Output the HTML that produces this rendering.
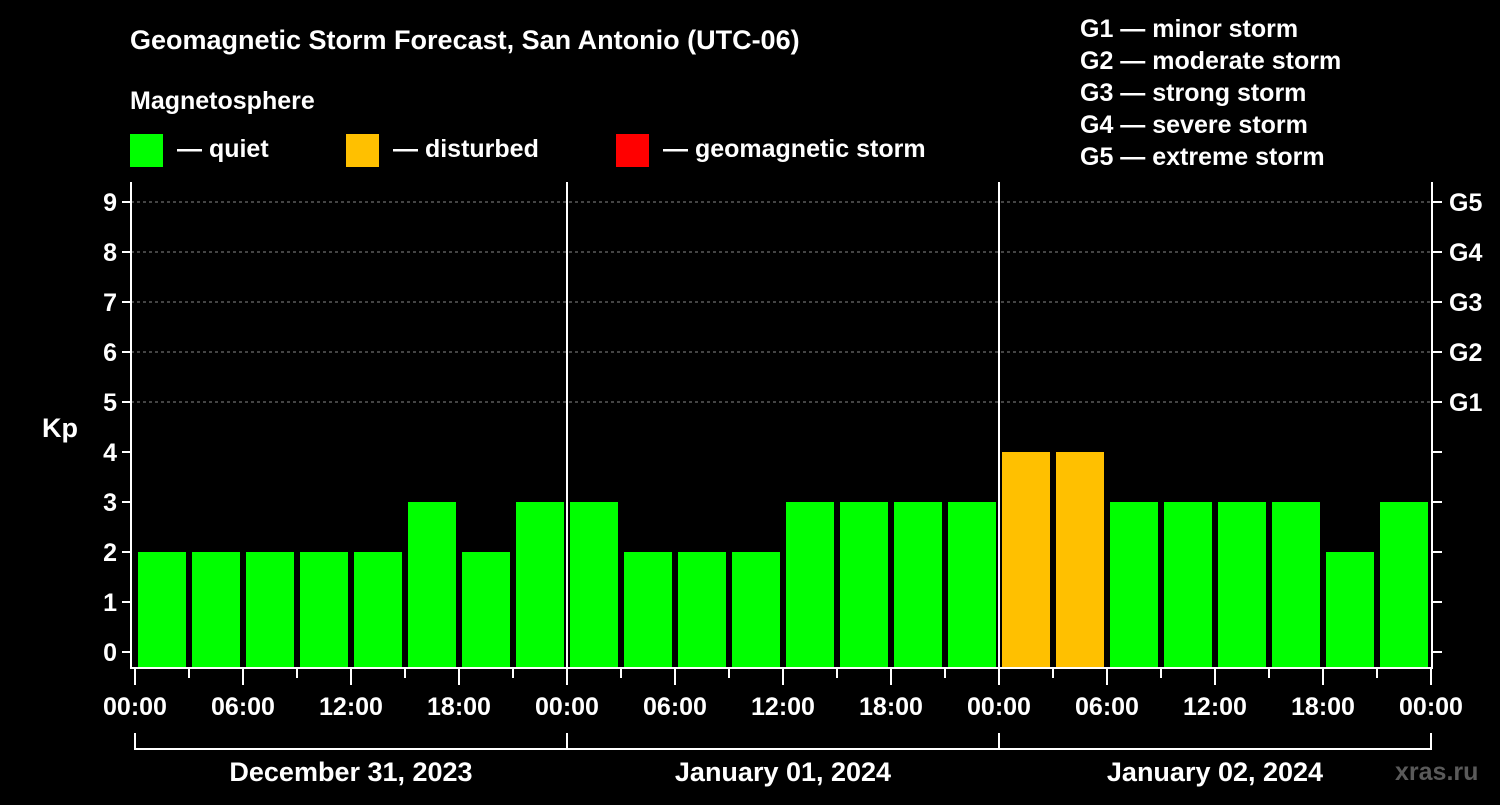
<!DOCTYPE html>
<html><head><meta charset="utf-8"><style>
body{margin:0;background:#000;width:1500px;height:800px;overflow:hidden}
svg text{font-family:"Liberation Sans",Arial,sans-serif;font-weight:bold;fill:#fff}
</style></head><body>
<svg id="c" width="1500" height="800" viewBox="0 0 1500 800">
<rect width="1500" height="800" fill="#000"/>
<text x="130" y="49" font-size="27">Geomagnetic Storm Forecast, San Antonio (UTC-06)</text>
<text x="130" y="109" font-size="25">Magnetosphere</text>
<rect x="130" y="134" width="33" height="33" fill="#00ff00"/>
<text x="177" y="157" font-size="25">— quiet</text>
<rect x="346" y="134" width="33" height="33" fill="#ffc000"/>
<text x="393" y="157" font-size="25">— disturbed</text>
<rect x="616" y="134" width="33" height="33" fill="#ff0000"/>
<text x="663" y="157" font-size="25">— geomagnetic storm</text>
<g font-size="25">
<text x="1080" y="37">G1 — minor storm</text>
<text x="1080" y="69">G2 — moderate storm</text>
<text x="1080" y="101">G3 — strong storm</text>
<text x="1080" y="133">G4 — severe storm</text>
<text x="1080" y="165">G5 — extreme storm</text>
</g>
<text x="42" y="437" font-size="27">Kp</text>
<text x="1395" y="780" font-size="25" fill="#555" style="fill:#5a5a5a">xras.ru</text>
<g id="plot"></g>
</svg>
<script>
const kpValues=[2,2,2,2,2,3,2,3, 3,2,2,2,3,3,3,3, 4,4,3,3,3,3,2,3];
const yTicks=[0,1,2,3,4,5,6,7,8,9];
const gLabels=["G1","G2","G3","G4","G5"];
const timeLabels=["00:00","06:00","12:00","18:00"];
const dayLabels=["December 31, 2023","January 01, 2024","January 02, 2024"];
const NS="http://www.w3.org/2000/svg";
const g=document.getElementById('plot');
const X0=135,STEP=54,Y0=652,UNIT=50,TOP=182,BOT=668,LEFT=131,RIGHT=1432;
const xs=i=>X0+i*STEP;
const ys=v=>Y0-v*UNIT;
function mk(t,a,txt){const e=document.createElementNS(NS,t);for(const k in a)e.setAttribute(k,a[k]);if(txt!==undefined)e.textContent=txt;g.appendChild(e);return e;}
// gridlines
yTicks.forEach(v=>{if(v>=5){const l=mk('line',{x1:LEFT,x2:RIGHT,y1:ys(v),y2:ys(v),stroke:'#888','stroke-dasharray':'3,3','stroke-width':1});

}});
// bars
kpValues.forEach((v,i)=>{const c=v>=5?'#ff0000':(v>=4?'#ffc000':'#00ff00');
const r=mk('rect',{x:xs(i)+3,y:ys(v),width:48,height:BOT-ys(v),fill:c});

});
// frame
const f=mk('path',{d:`M${LEFT} ${TOP}V${BOT}H${RIGHT}V${TOP}`,stroke:'#fff','stroke-width':2,fill:'none'});


// day separators
[1,2].forEach(d=>{const l=mk('line',{x1:xs(d*8),x2:xs(d*8),y1:TOP,y2:BOT,stroke:'#fff','stroke-width':2});

});
// y ticks
yTicks.forEach(v=>{
mk('line',{x1:LEFT-9,x2:LEFT,y1:ys(v),y2:ys(v),stroke:'#fff','stroke-width':2});
mk('line',{x1:RIGHT,x2:RIGHT+10,y1:ys(v),y2:ys(v),stroke:'#fff','stroke-width':2});
const t=mk('text',{x:LEFT-14,y:ys(v)+9,'text-anchor':'end','font-size':25},v);

});
gLabels.forEach((s,i)=>{const t=mk('text',{x:1449,y:ys(5+i)+9,'font-size':25},s);

});
// x ticks
for(let i=0;i<=24;i++){const major=i%2===0;
mk('line',{x1:xs(i),x2:xs(i),y1:BOT,y2:major?685:678,stroke:'#fff','stroke-width':2});
if(major){const t=mk('text',{x:xs(i),y:715,'text-anchor':'middle','font-size':25},timeLabels[(i/2)%4]);

}}
// day brackets
mk('path',{d:`M${xs(0)} 733V749H${xs(24)}V733`,stroke:'#fff','stroke-width':2,fill:'none'});
[1,2].forEach(d=>mk('line',{x1:xs(d*8),x2:xs(d*8),y1:733,y2:749,stroke:'#fff','stroke-width':2}));
dayLabels.forEach((s,d)=>{const t=mk('text',{x:xs(d*8+4),y:781,'text-anchor':'middle','font-size':27},s);

});
</script>
</body></html>
